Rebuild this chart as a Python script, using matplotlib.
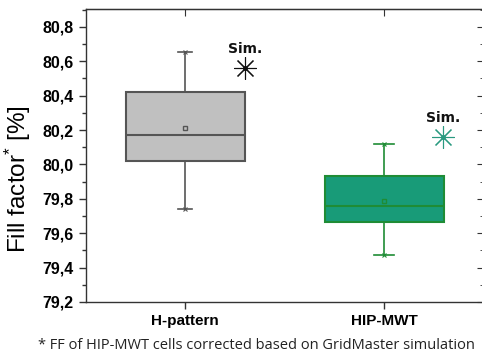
import matplotlib
matplotlib.use("Agg")
import matplotlib.pyplot as plt
from matplotlib.ticker import FixedLocator, MultipleLocator

groups = ['H-pattern', 'HIP-MWT']
q1 = [80.02, 79.665]
q3 = [80.42, 79.93]
med = [80.17, 79.76]
mean = [80.21, 79.79]
whislo = [79.74, 79.47]
whishi = [80.655, 80.12]
sim = [80.56, 80.16]
sim_label = 'Sim.'
yticks = [79.2, 79.4, 79.6, 79.8, 80.0, 80.2, 80.4, 80.6, 80.8]
ytick_labels = ['79,2', '79,4', '79,6', '79,8', '80,0', '80,2', '80,4', '80,6', '80,8']
footnote = '* FF of HIP-MWT cells corrected based on GridMaster simulation'

fills = ['#c0c0c0', '#189b78']
edges = ['#555555', '#1f8c35']
sim_colors = ['#111111', '#2a9a80']

plt.rcParams['font.family'] = ['Liberation Sans', 'DejaVu Sans']
plt.rcParams['mathtext.fontset'] = 'custom'
plt.rcParams['mathtext.rm'] = 'Liberation Sans'
plt.rcParams['mathtext.it'] = 'Liberation Sans'
plt.rcParams['mathtext.bf'] = 'Liberation Sans:bold'

fig = plt.figure(figsize=(4.82, 3.56), dpi=100)
ax = fig.add_axes([0.178, 0.152, 0.826, 0.823])

pos = [1, 2]
for i in range(2):
    st = [dict(med=med[i], q1=q1[i], q3=q3[i], whislo=whislo[i], whishi=whishi[i],
               mean=mean[i], fliers=[])]
    ax.bxp(st, positions=[pos[i]], widths=0.6, patch_artist=True, showmeans=True,
           showfliers=False, capwidths=[0.07 if i == 0 else 0.1],
           boxprops=dict(facecolor=fills[i], edgecolor=edges[i], linewidth=1.5),
           medianprops=dict(color=edges[i], linewidth=1.5),
           whiskerprops=dict(color=edges[i], linewidth=1.2),
           capprops=dict(color=edges[i], linewidth=1.2),
           meanprops=dict(marker='s', markersize=3.5, markerfacecolor='none',
                          markeredgecolor=edges[i], markeredgewidth=1.0))
    ax.plot([pos[i], pos[i]], [whislo[i], whishi[i]], linestyle='none', marker='x',
            markersize=3, color=edges[i], markeredgewidth=0.8)
    sx = pos[i] + (0.3 if i == 0 else 0.295)
    ax.plot([sx], [sim[i]], marker=(8, 2, 0), markersize=16, color=sim_colors[i],
            markeredgewidth=0.8, linestyle='none')
    ax.plot([sx], [sim[i]], marker='o', markersize=2.5, color=sim_colors[i], linestyle='none')
    ax.text(sx, sim[i] + 0.07, sim_label, ha='center', va='bottom', fontsize=10,
            fontweight='bold', family=['DejaVu Sans'], color='#111111')

ax.set_xlim(0.5, 2.5)
ax.set_ylim(79.2, 80.905)
ax.set_xticks(pos)
ax.set_xticklabels(groups, fontsize=11, fontweight='bold')
ax.yaxis.set_major_locator(FixedLocator(yticks))
ax.set_yticklabels(ytick_labels, fontsize=11.5, fontweight='bold')
ax.yaxis.set_minor_locator(MultipleLocator(0.1))
ax.tick_params(axis='both', which='major', direction='out', length=5, width=1, color='#333333')
ax.tick_params(axis='y', which='minor', direction='out', length=3, width=1, color='#333333')
ax.set_ylabel('Fill factor$^{*}$ [%]', fontsize=17.5)
ax.yaxis.set_label_coords(-0.133, 0.42)

for sp in ax.spines.values():
    sp.set_color('#333333')
    sp.set_linewidth(1)

top = ax.secondary_xaxis('top')
top.set_xticks(pos)
top.tick_params(direction='in', length=5, labeltop=False, color='#333333')
right = ax.secondary_yaxis('right')
right.yaxis.set_major_locator(FixedLocator(yticks))
right.yaxis.set_minor_locator(MultipleLocator(0.1))
right.tick_params(which='major', direction='in', length=5, labelright=False, color='#333333')
right.tick_params(which='minor', direction='in', length=3, labelright=False, color='#333333')

fig.text(0.532, 0.03, footnote, ha='center', va='center', fontsize=10.5,
         family=['Open Sans', 'DejaVu Sans'], color='#222222')

fig.savefig('out.png', dpi=100)
